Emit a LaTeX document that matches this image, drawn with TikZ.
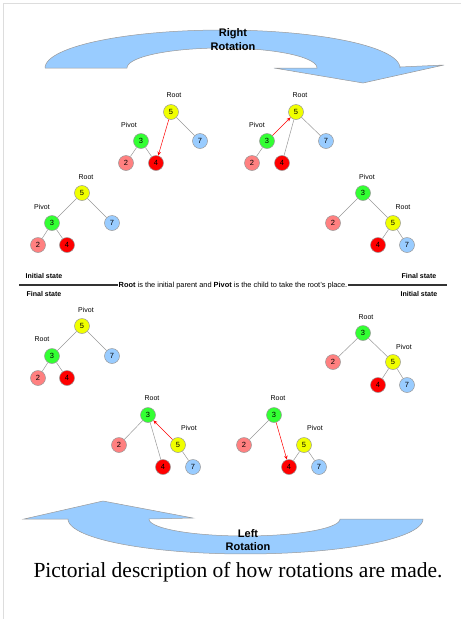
\documentclass[tikz,border=0pt]{standalone}
\usepackage{fontspec}
\setmainfont{Liberation Serif}
\setsansfont{Liberation Sans}
\usetikzlibrary{arrows.meta}
\definecolor{cyel}{HTML}{F0FF00}
\definecolor{cgrn}{HTML}{33FF33}
\definecolor{csal}{HTML}{FF8080}
\definecolor{cred}{HTML}{FF0000}
\definecolor{cblu}{HTML}{99CCFF}
\definecolor{cout}{HTML}{999999}
\definecolor{cedge}{HTML}{999999}
\definecolor{csep}{HTML}{333333}
\definecolor{cframe}{HTML}{DDDDDD}
\begin{document}
\begin{tikzpicture}[x=1pt,y=-1pt,
  tn/.style={circle,draw=cout,line width=0.5pt,minimum size=15pt,inner sep=0pt,
    font=\sffamily\fontsize{7.5}{8}\selectfont},
  n5/.style={tn,fill=cyel},
  n3/.style={tn,fill=cgrn},
  n2/.style={tn,fill=csal},
  n4/.style={tn,fill=cred},
  n7/.style={tn,fill=cblu},
  lbl/.style={font=\sffamily\fontsize{7}{8}\selectfont,inner sep=0pt},
  statelbl/.style={font=\sffamily\bfseries\fontsize{7}{8}\selectfont,inner sep=0pt},
  edgeline/.style={draw=cedge,line width=0.5pt},
  redarr/.style={draw=cred,line width=0.5pt,-{Stealth[length=4pt,width=3.5pt]}},
  bigarrow/.style={fill=cblu,draw=cout,line width=0.5pt},
  arrowtext/.style={font=\sffamily\bfseries\fontsize{11}{13.5}\selectfont,align=center,inner sep=0pt},
  sepline/.style={draw=csep,line width=1.5pt},
]
\useasboundingbox (0,0) rectangle (461,619);
\draw[cframe,line width=1.5pt] (3.5,619) -- (3.5,3.5) -- (461,3.5);

% Right rotation arrow
\path[bigarrow] (45,68) -- (127,68)
  -- plot[domain=180:0,samples=50,variable=\t] ({222+95*cos(\t)},{68-20*sin(\t)})
  -- (274,68) -- (363,83) -- (444,65) -- (400,67)
  -- plot[domain=0:180,samples=60,variable=\t] ({222.5+177.5*cos(\t)},{68-38*sin(\t)})
  -- cycle;
\node[arrowtext] (rrot) at (233,39.5) {Right\\Rotation};

% Left rotation arrow
\path[bigarrow] (24,519) -- (103,501) -- (193,518) -- (149,519)
  -- plot[domain=180:0,samples=50,variable=\t] ({244.5+95.5*cos(\t)},{519+17*sin(\t)})
  -- (423,519)
  -- plot[domain=0:180,samples=60,variable=\t] ({245.5+177.5*cos(\t)},{519+35*sin(\t)})
  -- cycle;
\node[arrowtext] (lrot) at (248,540) {Left\\Rotation};

% Tree A
\node[n5] (a5) at (171,112) {5};
\node[n3] (a3) at (141,141) {3};
\node[n7] (a7) at (200,141) {7};
\node[n2] (a2) at (126,163) {2};
\node[n4] (a4) at (156,163) {4};
\node[lbl] (aroot) at (174,95) {Root};
\node[lbl] (apiv) at (129,125) {Pivot};
\draw[edgeline] (a5) -- (a7);
\draw[edgeline] (a3) -- (a2);
\draw[edgeline] (a3) -- (a4);
\draw[redarr] (a5) -- (a4);

% Tree B
\node[n5] (b5) at (296,112) {5};
\node[n3] (b3) at (267,141) {3};
\node[n7] (b7) at (326,141) {7};
\node[n2] (b2) at (252,163) {2};
\node[n4] (b4) at (282,163) {4};
\node[lbl] (broot) at (300,95) {Root};
\node[lbl] (bpiv) at (257,125) {Pivot};
\draw[edgeline] (b5) -- (b7);
\draw[edgeline] (b3) -- (b2);
\draw[edgeline] (b4) -- (b5);
\draw[redarr] (b3) -- (b5);

% Tree C
\node[n5] (c5) at (82,193) {5};
\node[n3] (c3) at (52,223) {3};
\node[n7] (c7) at (112,223) {7};
\node[n2] (c2) at (38,245) {2};
\node[n4] (c4) at (67,245) {4};
\node[lbl] (croot) at (86,177) {Root};
\node[lbl] (cpiv) at (42,207) {Pivot};
\draw[edgeline] (c5) -- (c3);
\draw[edgeline] (c5) -- (c7);
\draw[edgeline] (c3) -- (c2);
\draw[edgeline] (c3) -- (c4);

% Tree D
\node[n3] (d3) at (363,193) {3};
\node[n2] (d2) at (333,223) {2};
\node[n5] (d5) at (393,223) {5};
\node[n4] (d4) at (378,245) {4};
\node[n7] (d7) at (407,245) {7};
\node[lbl] (dpiv) at (367,177) {Pivot};
\node[lbl] (droot) at (403,207) {Root};
\draw[edgeline] (d3) -- (d2);
\draw[edgeline] (d3) -- (d5);
\draw[edgeline] (d5) -- (d4);
\draw[edgeline] (d5) -- (d7);

% State labels and separator
\node[statelbl] (s1) at (44,276) {Initial state};
\node[statelbl] (s2) at (419,276) {Final state};
\node[statelbl] (s3) at (44,294) {Final state};
\node[statelbl] (s4) at (419,294) {Initial state};
\node[font=\sffamily\fontsize{7.4}{8}\selectfont,inner sep=1pt] (mid) at (233,286)
  {\textbf{Root} is the initial parent and \textbf{Pivot} is the child to take the root's place.};
\coordinate (sepL) at (19,285);
\coordinate (sepR) at (447,285);
\draw[sepline] (sepL) -- (sepL -| mid.west);
\draw[sepline] (sepR -| mid.east) -- (sepR);

% Tree E
\node[n5] (e5) at (82,326) {5};
\node[n3] (e3) at (52,356) {3};
\node[n7] (e7) at (112,356) {7};
\node[n2] (e2) at (38,378) {2};
\node[n4] (e4) at (67,378) {4};
\node[lbl] (epiv) at (86,310) {Pivot};
\node[lbl] (eroot) at (42,339) {Root};
\draw[edgeline] (e5) -- (e3);
\draw[edgeline] (e5) -- (e7);
\draw[edgeline] (e3) -- (e2);
\draw[edgeline] (e3) -- (e4);

% Tree F
\node[n3] (f3) at (363,333) {3};
\node[n2] (f2) at (333,362) {2};
\node[n5] (f5) at (393,362) {5};
\node[n4] (f4) at (378,385) {4};
\node[n7] (f7) at (407,385) {7};
\node[lbl] (froot) at (366,317) {Root};
\node[lbl] (fpiv) at (404,347) {Pivot};
\draw[edgeline] (f3) -- (f2);
\draw[edgeline] (f3) -- (f5);
\draw[edgeline] (f5) -- (f4);
\draw[edgeline] (f5) -- (f7);

% Tree G
\node[n3] (g3) at (148,415) {3};
\node[n2] (g2) at (119,445) {2};
\node[n5] (g5) at (178,445) {5};
\node[n4] (g4) at (163,467) {4};
\node[n7] (g7) at (193,467) {7};
\node[lbl] (groot) at (152,398) {Root};
\node[lbl] (gpiv) at (189,428) {Pivot};
\draw[edgeline] (g3) -- (g2);
\draw[edgeline] (g5) -- (g7);
\draw[edgeline] (g4) -- (g3);
\draw[redarr] (g5) -- (g3);

% Tree H
\node[n3] (h3) at (274,415) {3};
\node[n2] (h2) at (244,445) {2};
\node[n5] (h5) at (304,445) {5};
\node[n4] (h4) at (289,467) {4};
\node[n7] (h7) at (319,467) {7};
\node[lbl] (hroot) at (278,398) {Root};
\node[lbl] (hpiv) at (315,428) {Pivot};
\draw[edgeline] (h3) -- (h2);
\draw[edgeline] (h5) -- (h4);
\draw[edgeline] (h5) -- (h7);
\draw[redarr] (h3) -- (h4);

% Caption
\node[font=\fontsize{21.5}{24}\selectfont,inner sep=0pt] (cap) at (238,572)
  {Pictorial description of how rotations are made.};
\end{tikzpicture}
\end{document}
